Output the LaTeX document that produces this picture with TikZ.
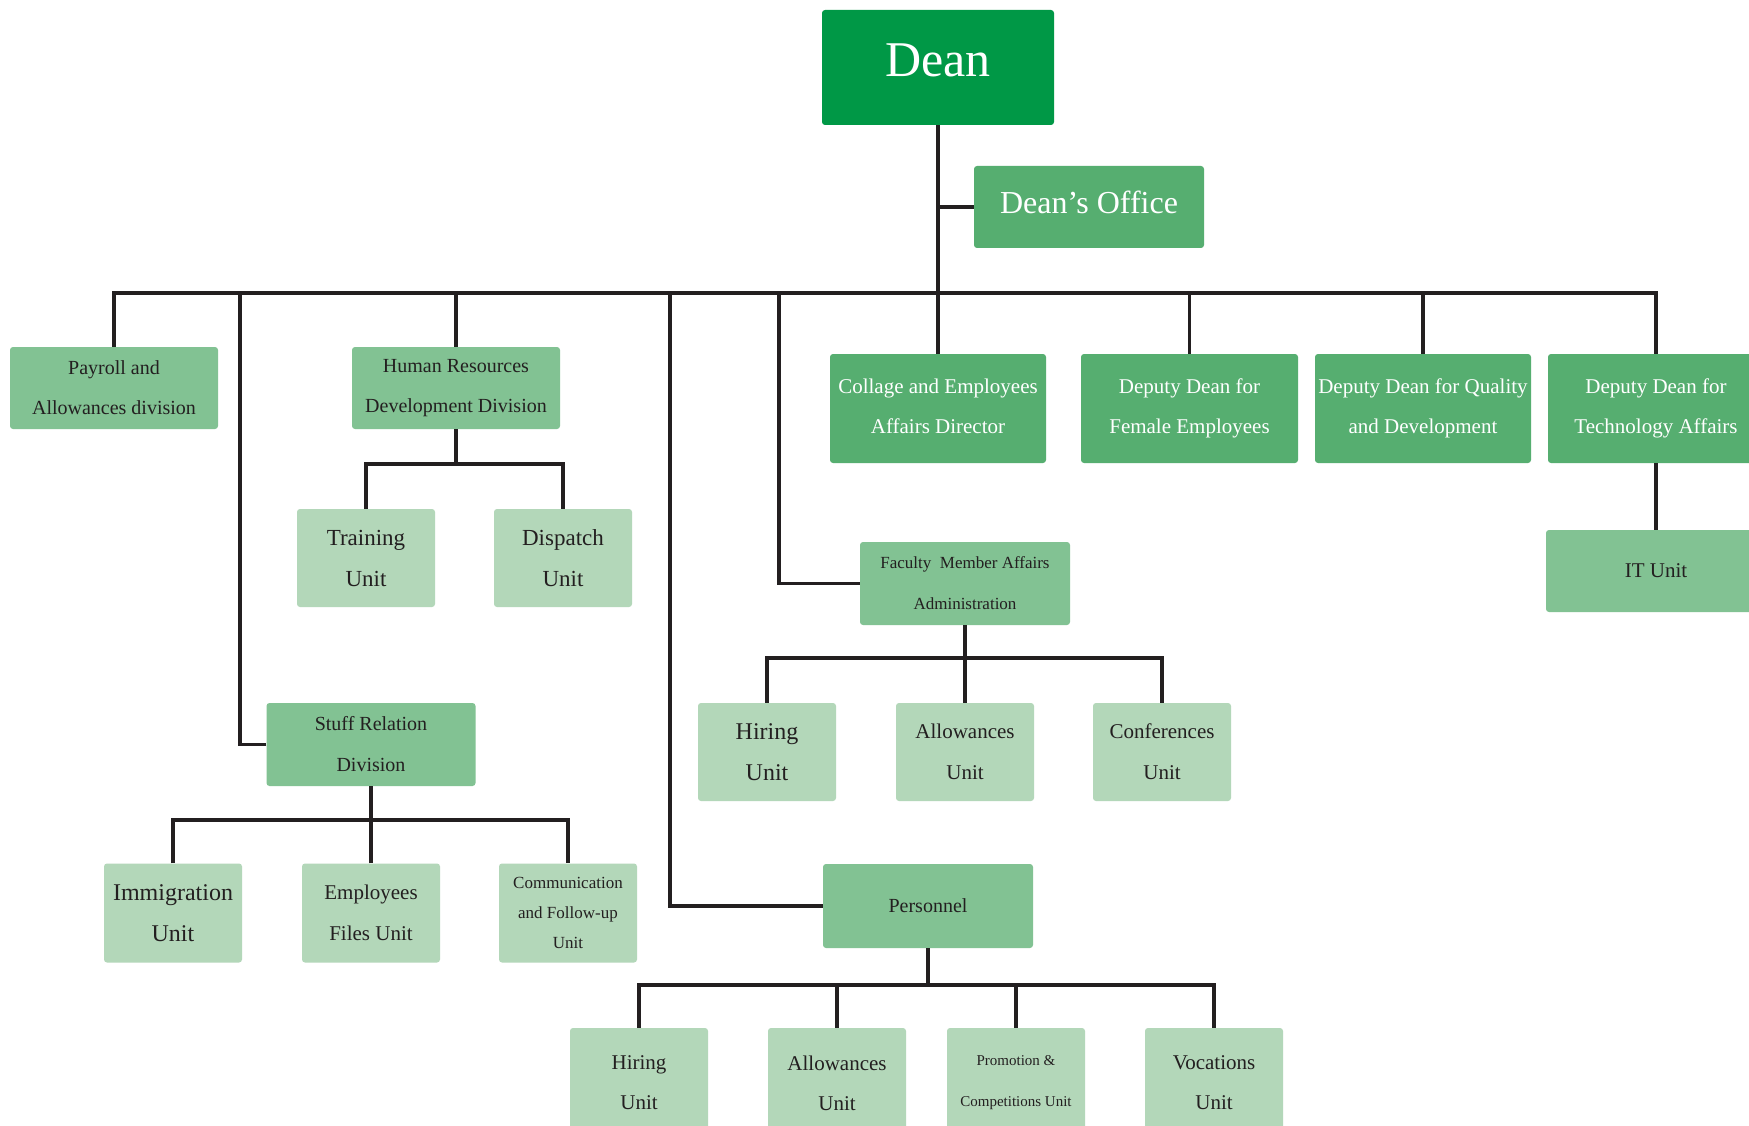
\documentclass[tikz,border=0pt]{standalone}
\usepackage{fontspec}
\setmainfont{Liberation Serif}
\definecolor{cDean}{HTML}{009846}
\definecolor{cDark}{HTML}{56AE70}
\definecolor{cMid}{HTML}{82C293}
\definecolor{cLight}{HTML}{B3D7B9}
\definecolor{cLine}{HTML}{231F20}
\definecolor{cText}{HTML}{231F20}
\begin{document}
\begin{tikzpicture}[x=1pt,y=-1pt,
 box/.style={rectangle, rounded corners=3pt, inner sep=0pt, align=center},
 deanbox/.style={box, fill=cDean, text=white},
 topbox/.style={box, fill=cDark, text=white},
 midbox/.style={box, fill=cMid, text=cText},
 unitbox/.style={box, fill=cLight, text=cText, minimum width=138pt, minimum height=98pt},
 conn/.style={draw=cLine, line width=3.2pt}]
\useasboundingbox (0,0) rectangle (1749,1126);
\fill[white] (0,0) rectangle (1749,1126);
\clip (0,0) rectangle (1749,1126);

% top
\node[deanbox, minimum width=232pt, minimum height=115pt, text height=35pt, text depth=16pt, font=\fontsize{50}{60}\selectfont] (dean) at (938,67.5) {Dean};
\node[topbox, minimum width=230pt, minimum height=82pt, text height=22pt, text depth=8pt, font=\fontsize{32}{36}\selectfont] (office) at (1089,207) {Dean’s Office};

% second level
\node[midbox, minimum width=208pt, minimum height=82pt, font=\fontsize{20}{40}\selectfont] (payroll) at (114,388) {Payroll and\\Allowances division};
\node[midbox, minimum width=208pt, minimum height=82pt, font=\fontsize{20}{40}\selectfont] (hr) at (456,388) {Human Resources\\Development Division};
\node[topbox, minimum width=216pt, minimum height=109pt, text depth=5pt, font=\fontsize{21}{40}\selectfont] (collage) at (938,408.5) {Collage and Employees\\Affairs Director};
\node[topbox, minimum width=217pt, minimum height=109pt, text depth=5pt, font=\fontsize{21}{40}\selectfont] (female) at (1189.5,408.5) {Deputy Dean for\\Female Employees};
\node[topbox, minimum width=216pt, minimum height=109pt, text depth=5pt, font=\fontsize{21}{40}\selectfont] (quality) at (1423,408.5) {Deputy Dean for Quality\\and Development};
\node[topbox, minimum width=216pt, minimum height=109pt, text depth=5pt, font=\fontsize{21}{40}\selectfont] (tech) at (1656,408.5) {Deputy Dean for\\Technology Affairs};
\node[midbox, minimum width=220pt, minimum height=82pt, font=\fontsize{21}{40}\selectfont] (it) at (1656,571) {IT Unit};

% HR units
\node[unitbox, font=\fontsize{23}{41}\selectfont] (train) at (366,558) {Training\\Unit};
\node[unitbox, font=\fontsize{23}{41}\selectfont] (disp) at (563,558) {Dispatch\\Unit};

% Faculty
\node[midbox, minimum width=210pt, minimum height=83pt, font=\fontsize{17}{41}\selectfont] (fac) at (965,583.5) {Faculty~ Member Affairs\\Administration};
\node[unitbox, font=\fontsize{24}{41}\selectfont] (hire1) at (767,752) {Hiring\\Unit};
\node[unitbox, font=\fontsize{21}{41}\selectfont] (allow1) at (965,752) {Allowances\\Unit};
\node[unitbox, font=\fontsize{21}{41}\selectfont] (conf) at (1162,752) {Conferences\\Unit};

% Stuff relation
\node[midbox, minimum width=209pt, minimum height=83pt, font=\fontsize{20}{41}\selectfont] (stuff) at (371,744.5) {Stuff Relation\\Division};
\node[unitbox, minimum height=99pt, font=\fontsize{24}{41}\selectfont] (immig) at (173,913) {Immigration\\Unit};
\node[unitbox, minimum height=99pt, font=\fontsize{21}{41}\selectfont] (files) at (371,913) {Employees\\Files Unit};
\node[unitbox, minimum height=99pt, font=\fontsize{17}{30}\selectfont] (comm) at (568,913) {Communication\\and Follow-up\\Unit};

% Personnel
\node[midbox, minimum width=210pt, minimum height=84pt, font=\fontsize{20}{40}\selectfont] (pers) at (928,906) {Personnel};
\node[unitbox, minimum height=110pt, font=\fontsize{21}{40}\selectfont] (hire2) at (639,1083) {Hiring\\Unit};
\node[unitbox, minimum height=110pt, font=\fontsize{21}{40}\selectfont] (allow2) at (837,1083) {Allowances\\Unit};
\node[unitbox, minimum height=110pt, font=\fontsize{15}{41}\selectfont] (promo) at (1016,1083) {Promotion \&\\Competitions Unit};
\node[unitbox, minimum height=110pt, font=\fontsize{21}{40}\selectfont] (voc) at (1214,1083) {Vocations\\Unit};

% connectors
\coordinate (bus) at (938,293);
\coordinate (sdrop) at (240,293);
\coordinate (pdrop) at (670,293);
\coordinate (fdrop) at (779,293);
\draw[conn] (dean.south) -- (bus);
\draw[conn] (dean.south |- office.west) -- (office.west);
\draw[conn] (payroll.north) |- (bus);
\draw[conn] (tech.north) |- (bus);
\draw[conn] (hr.north) -- (hr.north |- bus);
\draw[conn] (collage.north) -- (collage.north |- bus);
\draw[conn] (female.north) -- (female.north |- bus);
\draw[conn] (quality.north) -- (quality.north |- bus);
\draw[conn] (stuff.west) -| (sdrop);
\draw[conn] (pers.west) -| (pdrop);
\draw[conn] (fac.west) -| (fdrop);
\draw[conn] (tech.south) -- (it.north);

\draw[conn] (hr.south) -- (hr.south |- 0,464);
\draw[conn] (train.north) |- (hr.south |- 0,464) -| (disp.north);

\draw[conn] (fac.south) -- (fac.south |- 0,658);
\draw[conn] (hire1.north) |- (fac.south |- 0,658) -| (conf.north);
\draw[conn] (allow1.north) -- (allow1.north |- 0,658);

\draw[conn] (stuff.south) -- (stuff.south |- 0,820);
\draw[conn] (immig.north) |- (stuff.south |- 0,820) -| (comm.north);
\draw[conn] (files.north) -- (files.north |- 0,820);

\draw[conn] (pers.south) -- (pers.south |- 0,985);
\draw[conn] (hire2.north) |- (pers.south |- 0,985) -| (voc.north);
\draw[conn] (allow2.north) -- (allow2.north |- 0,985);
\draw[conn] (promo.north) -- (promo.north |- 0,985);
\end{tikzpicture}
\end{document}
